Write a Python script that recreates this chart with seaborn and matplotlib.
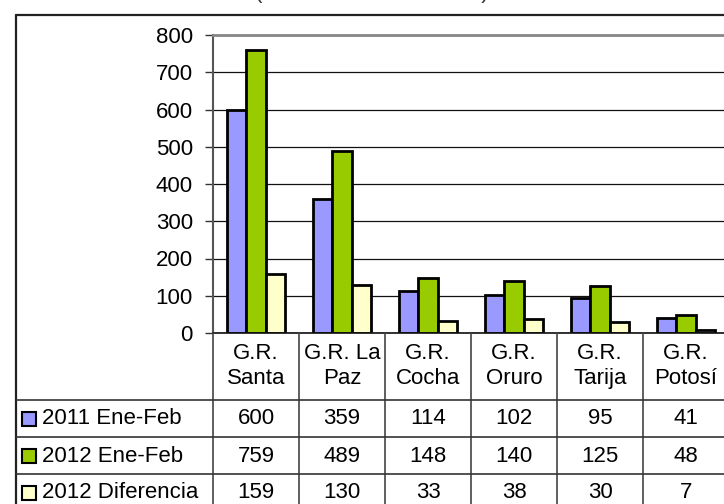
import matplotlib
matplotlib.use("Agg")
import matplotlib.pyplot as plt
import matplotlib.transforms as mtransforms
from matplotlib.patches import Rectangle
import seaborn as sns
import pandas as pd

categories = ["G.R.\nSanta", "G.R. La\nPaz", "G.R.\nCocha", "G.R.\nOruro", "G.R.\nTarija", "G.R.\nPotosí"]
series_names = ["2011 Ene-Feb", "2012 Ene-Feb", "2012 Diferencia"]
vals_2011 = [600, 359, 114, 102, 95, 41]
vals_2012 = [759, 489, 148, 140, 125, 48]
vals_diff = [159, 130, 33, 38, 30, 7]
colors = ["#9999FF", "#99CC00", "#FFFFCC"]
subtitle = "(en miles de bolivianos)"

series_values = [vals_2011, vals_2012, vals_diff]
rows = []
for name, vals in zip(series_names, series_values):
    for c, v in zip(categories, vals):
        rows.append({"cat": c, "serie": name, "valor": v})
df = pd.DataFrame(rows)

sns.set_theme(style="white")
plt.rcParams["font.family"] = ["Liberation Sans", "DejaVu Sans"]

W, H = 724, 504
fig = plt.figure(figsize=(W / 100, H / 100), dpi=100)

def fx(px):
    return px / W

def fy(py):
    return 1 - py / H

ax_left, ax_right, ax_top, ax_bottom = 213, 729, 35, 333
ax = fig.add_axes([fx(ax_left), fy(ax_bottom), (ax_right - ax_left) / W, (ax_bottom - ax_top) / H])

sns.barplot(data=df, x="cat", y="valor", hue="serie", order=categories,
            hue_order=series_names, palette=colors, width=0.667,
            edgecolor="black", linewidth=2.0, saturation=1, ax=ax, legend=False)

ax.set_xlim(-0.5, len(categories) - 0.5)
ax.set_ylim(0, 800)
ax.set_yticks(range(0, 801, 100))
ax.set_xticks([])
ax.set_xlabel("")
ax.set_ylabel("")
ax.tick_params(axis="y", length=5.5, width=1, color="#333333", pad=9, labelsize=16, labelcolor="black", left=True)
ax.grid(axis="y", color="#111111", linewidth=0.9)
ax.set_axisbelow(True)
ax.spines["right"].set_visible(False)
ax.spines["top"].set_color("#888888")
ax.spines["top"].set_linewidth(2)
ax.spines["left"].set_color("#555555")
ax.spines["left"].set_linewidth(1.5)
ax.spines["bottom"].set_color("#111111")
ax.spines["bottom"].set_linewidth(1.2)

# outer chart frame
fig.add_artist(plt.Line2D([fx(16), fx(16)], [fy(15), fy(510)], color="#222222", linewidth=1.6))
fig.add_artist(plt.Line2D([fx(16), fx(730)], [fy(15), fy(15)], color="#222222", linewidth=1.6))

# subtitle (mostly above the visible area, as in the reference)
fig.text(fx(372), fy(-2), subtitle, ha="center", va="baseline", fontsize=16, color="#333333")

# data table
blend = mtransforms.blended_transform_factory(ax.transData, fig.transFigure)
for i in range(len(categories)):
    b = i - 0.5
    fig.add_artist(plt.Line2D([b, b], [fy(333), fy(510)], transform=blend, color="#444444", linewidth=1.2))
for py in [400, 437, 474]:
    fig.add_artist(plt.Line2D([fx(16), fx(730)], [fy(py), fy(py)], color="#333333", linewidth=1.2))

for i, c in enumerate(categories):
    fig.text(i, fy(366), c, transform=blend, ha="center", va="center", fontsize=16,
             color="black", linespacing=1.25)

row_centers = [419, 456, 493]
for name, vals, col, yc in zip(series_names, series_values, colors, row_centers):
    fig.add_artist(Rectangle((fx(22), fy(yc + 7)), 14 / W, 14 / H, facecolor=col,
                             edgecolor="black", linewidth=1.5, transform=fig.transFigure))
    fig.text(fx(42), fy(yc), name, ha="left", va="center", fontsize=16, color="black")
    for i, v in enumerate(vals):
        fig.text(i, fy(yc), str(v), transform=blend, ha="center", va="center", fontsize=16, color="black")

fig.savefig("out.png", dpi=100)
